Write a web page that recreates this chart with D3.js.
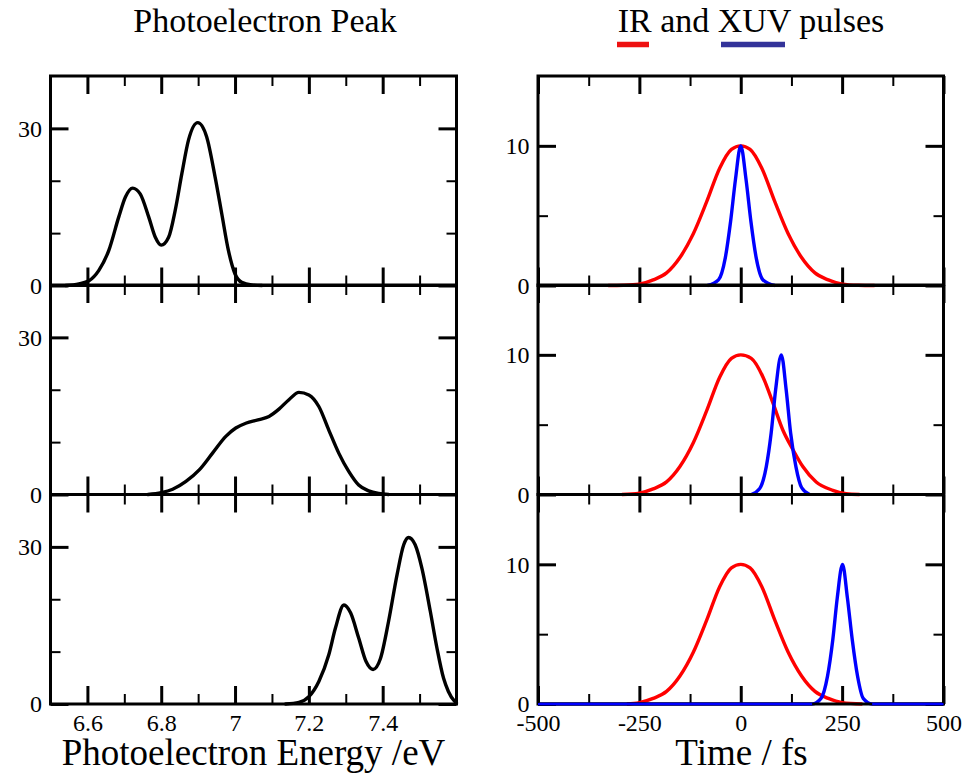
<!DOCTYPE html>
<html>
<head>
<meta charset="utf-8">
<script src="https://cdn.jsdelivr.net/npm/d3@7"></script>
<style>
html,body{margin:0;padding:0;background:#fff;}
</style>
</head>
<body>
<svg id="chart" width="966" height="773"></svg>
<script>
// ---------------- DATA ----------------
const leftTitle = "Photoelectron Peak";
const rightTitle = "IR and XUV pulses";
const leftXLabel = "Photoelectron Energy /eV";
const rightXLabel = "Time / fs";

// Photoelectron spectra (energy eV, signal)
const energy1 = [6.541,6.577,6.604,6.631,6.658,6.685,6.703,6.7225,6.743,6.766,6.784,6.80,6.82,6.838,6.856,6.874,6.899,6.923,6.946,6.964,6.982,7.0,7.018,7.045,7.073];
const peak1   = [0,0.3,0.9,2.9,6.7,13.1,16.9,18.6,17.5,13.1,9.2,7.7,9.2,14.4,21.4,27.8,31.1,28.4,20.7,13.7,6.7,2.2,0.6,0.1,0];
const energy2 = [6.764,6.8,6.831,6.867,6.903,6.939,6.975,7.002,7.029,7.065,7.092,7.119,7.146,7.173,7.2,7.227,7.254,7.281,7.308,7.335,7.362,7.389,7.416];
const peak2   = [0,0.35,1.0,2.5,4.7,7.9,11.1,12.7,13.6,14.3,14.9,16.3,18.1,19.5,19.0,16.8,12.3,7.9,4.4,1.8,0.7,0.2,0];
const energy3 = [7.137,7.173,7.2,7.227,7.254,7.272,7.295,7.313,7.335,7.355,7.374,7.394,7.416,7.439,7.457,7.470,7.488,7.506,7.529,7.547,7.565,7.578,7.594,7.6];
const peak3   = [0,0.3,1.4,4.3,9.4,14.5,18.9,17.4,12.6,8.1,6.6,8.7,15.8,24.7,30.4,31.8,30.4,26.0,17.7,10.7,4.9,2.4,0.6,0.2];

// IR pulses (time fs, amplitude)
const irTime1 = [-327,-290,-250,-216,-183,-150,-117,-84,-52,-23,0,23,52,84,117,150,183,216,250,290,330];
const irAmp1  = [0,0.02,0.1,0.4,0.9,2.0,3.7,6.0,8.4,9.75,10,9.75,8.4,6.0,3.7,2.0,0.9,0.4,0.1,0.02,0];
const irTime2 = [-293,-250,-216,-183,-150,-117,-84,-52,-23,0,26,55,80,104,129,153,186,227,260,293];
const irAmp2  = [0,0.1,0.4,0.9,2.0,3.7,6.0,8.4,9.75,10,9.75,8.4,6.5,4.6,3.2,2.0,0.9,0.3,0.05,0];
const irTime3 = [-281,-250,-216,-183,-150,-117,-84,-52,-23,0,23,52,84,117,150,183,216,250,300];
const irAmp3  = [0,0.1,0.4,0.9,2.0,3.7,6.0,8.4,9.75,10,9.75,8.4,6.0,3.7,2.0,0.9,0.4,0.1,0];

// XUV pulses (time fs, amplitude)
const xuvTime1 = [-82,-55,-38,-25,-13,0,13,25,38,55,84];
const xuvAmp1  = [0,0.4,2.0,4.6,7.6,10,7.6,4.6,2.0,0.4,0];
const xuvTime2 = [26,47,63,75,86,100,112,123,136,150,170];
const xuvAmp2  = [0,0.44,2.0,4.4,7.5,10,7.5,4.4,2.0,0.5,0];
const xuvTime3 = [-500,176,198,214,227,238,251,263,275,288,302,324,500];
const xuvAmp3  = [0,0,0.4,2.0,4.6,7.6,10,7.6,4.6,2.0,0.4,0,0];

// Axes / ticks
const energyDomain = [6.5, 7.6];
const energyMajor = [6.6, 6.8, 7.0, 7.2, 7.4];
const energyMinor = [6.7, 6.9, 7.1, 7.3, 7.5];
const energyLabels = ["6.6","6.8","7","7.2","7.4"];
const signalDomain = [0, 40];
const signalMajor = [0, 30];
const signalMinor = [10, 20];
const timeDomain = [-500, 500];
const timeMajor = [-500, -250, 0, 250, 500];
const timeMinor = [-375, -125, 125, 375];
const ampDomain = [0, 15];
const ampMajor = [0, 10];
const ampMinor = [5];

const leftPanels = [[energy1, peak1],[energy2, peak2],[energy3, peak3]];
const rightPanels = [
  {ir:[irTime1, irAmp1], xuv:[xuvTime1, xuvAmp1]},
  {ir:[irTime2, irAmp2], xuv:[xuvTime2, xuvAmp2]},
  {ir:[irTime3, irAmp3], xuv:[xuvTime3, xuvAmp3]}
];

// ---------------- LAYOUT ----------------
const FONT = "'Liberation Serif', 'Times New Roman', Times, serif";
const svg = d3.select("#chart").attr("font-family", FONT);
const panelTops = [76, 285, 494.5];
const panelH = 209.5;
const L = {x0:50.5, x1:456.5};
const R = {x0:538, x1:943.5};
const RED = "#ff0000", BLUE = "#0000ff";
const majorLen = 18, minorLen = 10;

const xE = d3.scaleLinear().domain(energyDomain).range([L.x0, L.x1]);
const xT = d3.scaleLinear().domain(timeDomain).range([R.x0, R.x1]);

function styleAxis(g, width) {
  g.attr("font-family", FONT).attr("font-size", 24);
  g.select(".domain").remove();
  g.selectAll(".tick line").attr("stroke","#000").attr("stroke-width", width);
  g.selectAll(".tick text").attr("font-family", FONT).attr("font-size", 24).attr("fill","#000");
}

function drawFrameAxes(x, y, top, xMajor, xMinor, yMajor, yMinor, xLabels, showXLabels, x0, x1) {
  const bottom = top + panelH;
  const bMaj = d3.axisBottom(x).tickValues(xMajor).tickSize(-majorLen).tickPadding(10)
      .tickFormat((d,i)=> showXLabels ? xLabels[i] : "");
  svg.append("g").attr("transform",`translate(0,${bottom})`).call(bMaj).call(g=>styleAxis(g,3));
  svg.append("g").attr("transform",`translate(0,${bottom})`)
     .call(d3.axisBottom(x).tickValues(xMinor).tickSize(-minorLen).tickFormat(""))
     .call(g=>styleAxis(g,2));
  svg.append("g").attr("transform",`translate(0,${top})`)
     .call(d3.axisTop(x).tickValues(xMajor).tickSize(-majorLen).tickFormat(""))
     .call(g=>styleAxis(g,3));
  svg.append("g").attr("transform",`translate(0,${top})`)
     .call(d3.axisTop(x).tickValues(xMinor).tickSize(-minorLen).tickFormat(""))
     .call(g=>styleAxis(g,2));
  svg.append("g").attr("transform",`translate(${x0},0)`)
     .call(d3.axisLeft(y).tickValues(yMajor).tickSize(-majorLen).tickPadding(8.5).tickFormat(d3.format("d")))
     .call(g=>styleAxis(g,3));
  svg.append("g").attr("transform",`translate(${x0},0)`)
     .call(d3.axisLeft(y).tickValues(yMinor).tickSize(-minorLen).tickFormat(""))
     .call(g=>styleAxis(g,2));
  svg.append("g").attr("transform",`translate(${x1},0)`)
     .call(d3.axisRight(y).tickValues(yMajor).tickSize(-majorLen).tickFormat(""))
     .call(g=>styleAxis(g,3));
  svg.append("g").attr("transform",`translate(${x1},0)`)
     .call(d3.axisRight(y).tickValues(yMinor).tickSize(-minorLen).tickFormat(""))
     .call(g=>styleAxis(g,2));
}

function lineFor(x, y) {
  return d3.line().x(d=>x(d[0])).y(d=>y(d[1])).curve(d3.curveMonotoneX);
}
function zipXY(xs, ys){ return xs.map((v,i)=>[v, ys[i]]); }

leftPanels.forEach((p, i) => {
  const top = panelTops[i];
  const y = d3.scaleLinear().domain(signalDomain).range([top+panelH, top]);
  drawFrameAxes(xE, y, top, energyMajor, energyMinor, signalMajor, signalMinor, energyLabels, i===2, L.x0, L.x1);
  svg.append("path").datum(zipXY(p[0], p[1]))
     .attr("d", lineFor(xE, y)).attr("fill","none").attr("stroke","#000")
     .attr("stroke-width",3.4).attr("stroke-linejoin","round").attr("stroke-linecap","round");
});

rightPanels.forEach((p, i) => {
  const top = panelTops[i];
  const y = d3.scaleLinear().domain(ampDomain).range([top+panelH, top]);
  drawFrameAxes(xT, y, top, timeMajor, timeMinor, ampMajor, ampMinor, timeMajor.map(String), i===2, R.x0, R.x1);
  svg.append("path").datum(zipXY(p.ir[0], p.ir[1]))
     .attr("d", lineFor(xT, y)).attr("fill","none").attr("stroke",RED)
     .attr("stroke-width",3.4).attr("stroke-linejoin","round");
  svg.append("path").datum(zipXY(p.xuv[0], p.xuv[1]))
     .attr("d", lineFor(xT, y)).attr("fill","none").attr("stroke",BLUE)
     .attr("stroke-width",3.4).attr("stroke-linejoin","round");
});

[L, R].forEach(b => {
  panelTops.forEach(top => {
    svg.append("rect").attr("x", b.x0).attr("y", top).attr("width", b.x1-b.x0).attr("height", panelH)
       .attr("fill","none").attr("stroke","#000").attr("stroke-width",3);
  });
});
(function(){
  const top = panelTops[2];
  const y = d3.scaleLinear().domain(ampDomain).range([top+panelH, top]);
  const seg = zipXY(xuvTime3, xuvAmp3).filter(d => d[1] === 0);
  svg.append("path").datum(seg.slice(0,2)).attr("d", d3.line().x(d=>xT(d[0])).y(d=>y(d[1])))
     .attr("stroke",BLUE).attr("stroke-width",2).attr("fill","none");
  svg.append("path").datum(seg.slice(2)).attr("d", d3.line().x(d=>xT(d[0])).y(d=>y(d[1])))
     .attr("stroke",BLUE).attr("stroke-width",2).attr("fill","none");
})();

function addText(x, y, size, str) {
  svg.append("text").attr("x",x).attr("y",y).attr("text-anchor","middle")
     .attr("font-family", FONT).attr("font-size", size).attr("fill","#000").text(str);
}
addText(265, 32, 34, leftTitle);
addText(751, 32, 34, rightTitle);
svg.append("line").attr("x1",617).attr("x2",649).attr("y1",44.5).attr("y2",44.5).attr("stroke","#ee1111").attr("stroke-width",5.5);
svg.append("line").attr("x1",721).attr("x2",785).attr("y1",44.5).attr("y2",44.5).attr("stroke","#333399").attr("stroke-width",5.5);
addText(253.5, 765, 37, leftXLabel);
addText(741.5, 765, 37, rightXLabel);
</script>
</body>
</html>
